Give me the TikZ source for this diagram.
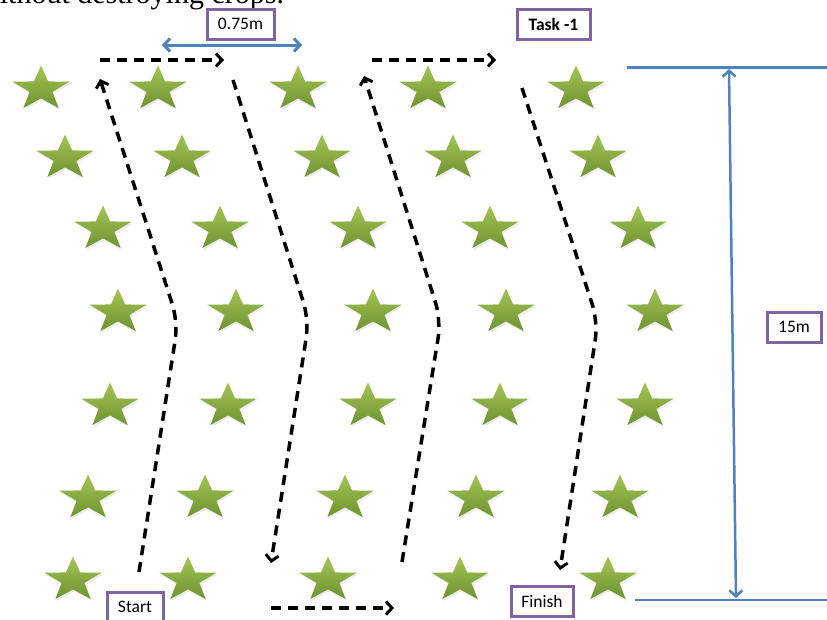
\documentclass[tikz,border=0pt]{standalone}
\usepackage{fontspec}
\setmainfont{Liberation Serif}
\newfontfamily\tagfont{Carlito}
\usetikzlibrary{arrows.meta,shadows}

\definecolor{boxpurple}{RGB}{128,100,162}
\definecolor{dimblue}{RGB}{79,129,189}
\definecolor{leaftop}{RGB}{163,196,84}
\definecolor{leafbottom}{RGB}{112,146,50}

% five pointed plant outline, wider than tall
\newcommand{\plantpath}{(90:30pt and 23.5pt) -- (126:12pt and 9.4pt) -- (162:30pt and 23.5pt) -- (198:12pt and 9.4pt) -- (234:30pt and 23.5pt) -- (270:12pt and 9.4pt) -- (306:30pt and 23.5pt) -- (342:12pt and 9.4pt) -- (18:30pt and 23.5pt) -- (54:12pt and 9.4pt) -- cycle}

\begin{document}
\begin{tikzpicture}[x=1pt,y=-1pt]
    \tikzstyle{tag}=[rectangle,draw=boxpurple,line width=3pt,fill=white,inner sep=0pt,minimum height=30,font=\tagfont\fontsize{17.5}{20}\selectfont]
    \tikzstyle{walk}=[black,line width=3.5pt,dash pattern=on 10pt off 7pt,rounded corners=18pt,-{Straight Barb[length=6pt,width=13pt,line width=3pt]}]
    \tikzstyle{dimline}=[dimblue,line width=3pt]
    \tikzstyle{dimarrow}=[dimblue,line width=3pt,{Straight Barb[length=6pt,width=13pt]}-{Straight Barb[length=6pt,width=13pt]}]
    \tikzstyle{crop}=[top color=leaftop,bottom color=leafbottom,drop shadow={opacity=0.15,shadow xshift=1pt,shadow yshift=-2pt}]
    \useasboundingbox (0,0) rectangle (827,619);
    \node (intro) at (-22,3) [anchor=base west,inner sep=0pt,font=\fontsize{30}{32}\selectfont] {without destroying crops.};
    \foreach \x/\y in {41/89,158/89,298/89,428/89,576/89,
                       65/158,182/158,322/158,453/158,598/158,
                       103/229,220/229,358/229,490/229,638/229,
                       118/312,236/312,373/312,506/312,655/312,
                       110/406,228/406,368/406,500/406,645/406,
                       88/498,205/498,345/498,476/498,620/498,
                       73/580,188/580,328/580,460/580,608/580}
        \shade[crop,shift={(\x,\y)}] \plantpath;
	\node (gap)    at (240.5,24) [tag,minimum width=67] {0.75m};
	\node (task)   at (553.5,24) [tag,minimum width=73] {\bfseries Task -1};
	\node (span)   at (794,327)  [tag,minimum width=54] {15m};
	\node (start)  at (135,607)  [tag,minimum width=56] {Start};
	\node (finish) at (542,601)  [tag,minimum width=62] {Finish};
	\coordinate (w1)  at (139,572);
	\coordinate (w2)  at (178,322);
	\coordinate (w3)  at (100,79);
	\coordinate (w4)  at (233,80);
	\coordinate (w5)  at (309,320);
	\coordinate (w6)  at (271,563);
	\coordinate (w7)  at (402,562);
	\coordinate (w8)  at (441,320);
	\coordinate (w9)  at (364,76);
	\coordinate (w10) at (522,88);
	\coordinate (w11) at (598,322);
	\coordinate (w12) at (560,570);
	\coordinate (h1a) at (100,60);
	\coordinate (h1b) at (224,60);
	\coordinate (h2a) at (271,608);
	\coordinate (h2b) at (394,608);
	\coordinate (h3a) at (372,60);
	\coordinate (h3b) at (496,60);
	\draw [walk] (w1) -- (w2) -- (w3);
	\draw [walk] (h1a) -- (h1b);
	\draw [walk] (w4) -- (w5) -- (w6);
	\draw [walk] (h2a) -- (h2b);
	\draw [walk] (w7) -- (w8) -- (w9);
	\draw [walk] (h3a) -- (h3b);
	\draw [walk] (w10) -- (w11) -- (w12);
	\coordinate (gapw) at (162,45);
	\coordinate (gape) at (302,45);
	\coordinate (topw) at (627,67);
	\coordinate (tope) at (827,67);
	\coordinate (botw) at (635,600);
	\coordinate (bote) at (827,600);
	\coordinate (spann) at (729,69);
	\coordinate (spans) at (736,598);
	\draw [dimarrow] (gapw) -- (gape);
	\draw [dimline] (topw) -- (tope);
	\draw [dimline,line width=2pt] (botw) -- (bote);
	\draw [dimarrow,line width=2.5pt] (spann) -- (spans);
\end{tikzpicture}
\end{document}
